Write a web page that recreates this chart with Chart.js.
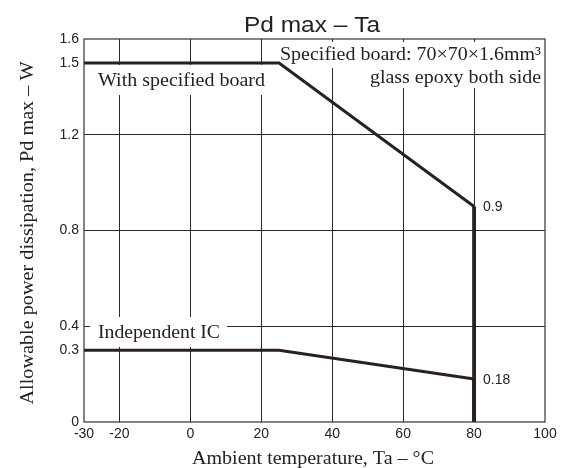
<!DOCTYPE html>
<html><head><meta charset="utf-8">
<script src="https://cdn.jsdelivr.net/npm/chart.js@4/dist/chart.umd.min.js"></script>
<style>html,body{margin:0;padding:0;background:#fff}#wrap{width:563px;height:468px}</style>
</head><body><div id="wrap"><canvas id="c" width="563" height="468"></canvas></div>
<script>
const boardTemps = [-30, 25, 80, 80];
const boardPd = [1.5, 1.5, 0.9, 0];
const icTemps = [-30, 25, 80, 80];
const icPd = [0.3, 0.3, 0.18, 0];
const xTicks = [-30, -20, 0, 20, 40, 60, 80, 100];
const yTicks = [0, 0.3, 0.4, 0.8, 1.2, 1.5, 1.6];
const xGrid = [-20, 0, 20, 40, 60, 80];
const yGrid = [0.4, 0.8, 1.2];
const endLabels = [{x: 80, y: 0.9, text: '0.9'}, {x: 80, y: 0.18, text: '0.18'}];

const ink = '#2a211e';
const gridCol = '#2a2a2a';
const serif = '"Liberation Serif", "Times New Roman", serif';
const sans = '"Liberation Sans", Arial, sans-serif';

function toPts(xs, ys){ return xs.map((x,i)=>({x:x, y:ys[i]})); }

const notes = [
  {text:'With specified board', px:98, py:86, align:'left', w:167, box:[90,65,272,95]},
  {text:'Specified board: 70×70×1.6mm³', px:541, py:60, align:'right', w:261, box:[276,42,544,68]},
  {text:'glass epoxy both side', px:541, py:83, align:'right', w:171, box:[365,68,544,88]},
  {text:'Independent IC', px:98, py:338, align:'left', w:122, box:[90,317,227,347]}
];

function fitText(ctx, text, x, y, align, w){
  const m = ctx.measureText(text).width;
  const sx = w / m;
  ctx.save();
  ctx.translate(x, y);
  ctx.scale(sx, 1);
  ctx.textAlign = align;
  ctx.fillText(text, 0, 0);
  ctx.restore();
}

const decor = {
  id:'decor',
  beforeDatasetsDraw(chart){
    const ctx = chart.ctx;
    ctx.save();
    ctx.fillStyle = '#fff';
    notes.forEach(n=>{ const b=n.box; ctx.fillRect(b[0],b[1],b[2]-b[0],b[3]-b[1]); });
    ctx.restore();
  },
  afterDatasetsDraw(chart){
    const ctx = chart.ctx, a = chart.chartArea, xs = chart.scales.x, ys = chart.scales.y;
    ctx.save();
    ctx.strokeStyle = '#333'; ctx.lineWidth = 1.2;
    ctx.strokeRect(a.left, a.top, a.right-a.left, a.bottom-a.top);
    ctx.fillStyle = '#222';
    ctx.font = '19px ' + serif; ctx.textBaseline = 'alphabetic';
    notes.forEach(n=>{ fitText(ctx, n.text, n.px, n.py, n.align, n.w); });
    ctx.font = '14px ' + sans; ctx.textAlign = 'left'; ctx.textBaseline = 'middle';
    endLabels.forEach(l=>{ ctx.fillText(l.text, xs.getPixelForValue(l.x)+9, ys.getPixelForValue(l.y)+1); });
    ctx.font = '22px ' + sans; ctx.textBaseline = 'alphabetic';
    fitText(ctx, 'Pd max – Ta', 312, 32, 'center', 136);
    ctx.font = '19px ' + serif;
    fitText(ctx, 'Ambient temperature, Ta – °C', 313, 464, 'center', 242);
    ctx.save();
    ctx.translate(33, 233); ctx.rotate(-Math.PI/2);
    fitText(ctx, 'Allowable power dissipation, Pd max – W', 0, 0, 'center', 343);
    ctx.restore();
    ctx.restore();
  }
};

const seg = {borderWidth: (c)=> c.p0.parsed.x === c.p1.parsed.x ? 3.8 : 3};

new Chart(document.getElementById('c'), {
  type:'line',
  data:{datasets:[
    {data:toPts(boardTemps, boardPd), borderColor:ink, borderWidth:3, pointRadius:0, tension:0, fill:false, segment:seg},
    {data:toPts(icTemps, icPd), borderColor:ink, borderWidth:3, pointRadius:0, tension:0, fill:false, segment:seg}
  ]},
  options:{
    responsive:false, animation:false, devicePixelRatio:1,
    layout:{padding:{top:39, right:18, left:0, bottom:0}},
    plugins:{legend:{display:false}, tooltip:{enabled:false}, title:{display:false}},
    scales:{
      x:{type:'linear', min:-30, max:100,
        afterBuildTicks(s){ s.ticks = xTicks.map(v=>({value:v})); },
        afterFit(s){ s.height = 46; },
        border:{display:false},
        grid:{drawTicks:false, color:(c)=> xGrid.includes(c.tick && c.tick.value) ? gridCol : 'rgba(0,0,0,0)', lineWidth:1},
        ticks:{padding:4, color:'#222', font:{family:sans, size:14}, maxRotation:0, autoSkip:false}
      },
      y:{type:'linear', min:0, max:1.6,
        afterBuildTicks(s){ s.ticks = yTicks.map(v=>({value:v})); },
        afterFit(s){ s.width = 84; },
        border:{display:false},
        grid:{drawTicks:false, color:(c)=> yGrid.includes(c.tick && c.tick.value) ? gridCol : 'rgba(0,0,0,0)', lineWidth:1},
        ticks:{padding:5, color:'#222', font:{family:sans, size:14}, autoSkip:false,
          callback:(v)=> String(v)}
      }
    }
  },
  plugins:[decor]
});
</script></body></html>
